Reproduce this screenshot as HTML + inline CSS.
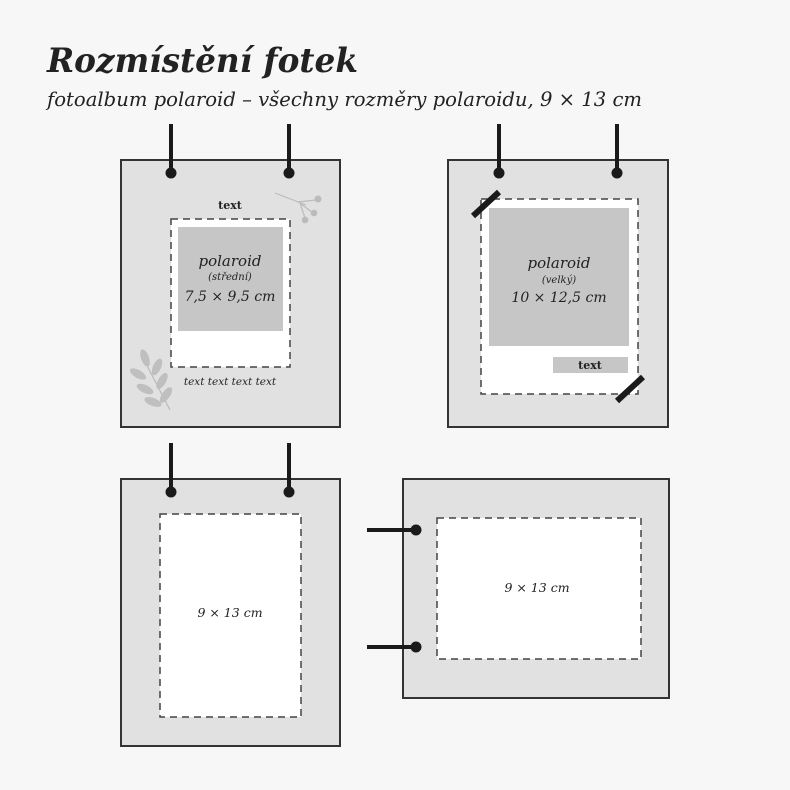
<!DOCTYPE html>
<html><head><meta charset="utf-8"><style>
html,body{margin:0;padding:0;background:#f7f7f7;}
svg{display:block;}
text{font-family:"DejaVu Serif","Liberation Serif",serif;fill:#222;}
</style></head><body>
<svg width="790" height="790" viewBox="0 0 790 790" xmlns="http://www.w3.org/2000/svg">
<rect width="790" height="790" fill="#f7f7f7"/>
<text x="47" y="72" font-size="34" font-weight="bold" font-style="italic" textLength="311" lengthAdjust="spacingAndGlyphs" fill="#1a1a1a">Rozmístění fotek</text>
<text x="47" y="106" font-size="20" font-style="italic" textLength="595" lengthAdjust="spacingAndGlyphs">fotoalbum polaroid – všechny rozměry polaroidu, 9 × 13 cm</text>

<g stroke="#333" stroke-width="2" fill="#e1e1e1">
<rect x="121" y="160" width="219" height="267"/>
<rect x="448" y="160" width="220" height="267"/>
<rect x="121" y="479" width="219" height="267"/>
<rect x="403" y="479" width="266" height="219"/>
</g>

<!-- panel 1 -->
<rect x="171" y="219" width="119" height="148" fill="#fff" stroke="#444" stroke-width="1.5" stroke-dasharray="7,5"/>
<rect x="178" y="227" width="105" height="104" fill="#c6c6c6"/>
<text x="230" y="209" font-size="11" font-weight="bold" text-anchor="middle">text</text>
<text x="230" y="266" font-size="15" font-style="italic" text-anchor="middle">polaroid</text>
<text x="230" y="280" font-size="10" font-style="italic" text-anchor="middle">(střední)</text>
<text x="230" y="301" font-size="14" font-style="italic" text-anchor="middle">7,5 × 9,5 cm</text>
<text x="230" y="385" font-size="10.5" font-style="italic" text-anchor="middle">text text text text</text>
<g stroke="#bbb" stroke-width="1.2" fill="#bbb">
<line x1="275" y1="193" x2="306" y2="205"/>
<line x1="298" y1="202" x2="316" y2="200"/>
<line x1="300" y1="203" x2="313" y2="213"/>
<line x1="300" y1="203" x2="305" y2="218"/>
<circle cx="318" cy="199" r="3.5" stroke="none"/>
<circle cx="314" cy="213" r="3.3" stroke="none"/>
<circle cx="305" cy="220" r="3.3" stroke="none"/>
<line x1="142" y1="356" x2="170" y2="410"/>
<g stroke="none" fill="#bfbfbf">
<ellipse cx="145" cy="358" rx="4" ry="9" transform="rotate(-20 145 358)"/>
<ellipse cx="157" cy="367" rx="4" ry="9" transform="rotate(25 157 367)"/>
<ellipse cx="138" cy="374" rx="4" ry="9" transform="rotate(-60 138 374)"/>
<ellipse cx="162" cy="381" rx="4" ry="9" transform="rotate(30 162 381)"/>
<ellipse cx="145" cy="389" rx="4" ry="9" transform="rotate(-65 145 389)"/>
<ellipse cx="166" cy="395" rx="4" ry="9" transform="rotate(35 166 395)"/>
<ellipse cx="153" cy="402" rx="4" ry="9" transform="rotate(-70 153 402)"/>
</g>
</g>

<!-- panel 2 -->
<rect x="481" y="199" width="157" height="195" fill="#fff" stroke="#444" stroke-width="1.5" stroke-dasharray="7,5"/>
<rect x="489" y="208" width="140" height="138" fill="#c6c6c6"/>
<rect x="553" y="357" width="75" height="16" fill="#c6c6c6"/>
<text x="590" y="369" font-size="11" font-weight="bold" text-anchor="middle">text</text>
<text x="559" y="268" font-size="15" font-style="italic" text-anchor="middle">polaroid</text>
<text x="559" y="283" font-size="10" font-style="italic" text-anchor="middle">(velký)</text>
<text x="559" y="302" font-size="14" font-style="italic" text-anchor="middle">10 × 12,5 cm</text>
<g stroke="#1a1a1a" stroke-width="6">
<line x1="473" y1="216" x2="499" y2="192"/>
<line x1="617" y1="401" x2="643" y2="377"/>
</g>

<!-- panel 3 -->
<rect x="160" y="514" width="141" height="203" fill="#fff" stroke="#444" stroke-width="1.5" stroke-dasharray="7,5"/>
<text x="230" y="617" font-size="12.5" font-style="italic" text-anchor="middle">9 × 13 cm</text>

<!-- panel 4 -->
<rect x="437" y="518" width="204" height="141" fill="#fff" stroke="#444" stroke-width="1.5" stroke-dasharray="7,5"/>
<text x="537" y="592" font-size="12.5" font-style="italic" text-anchor="middle">9 × 13 cm</text>

<!-- rings -->
<g stroke="#1a1a1a" stroke-width="4" fill="#1a1a1a">
<line x1="171" y1="124" x2="171" y2="172"/><circle cx="171" cy="173" r="5.5" stroke="none"/>
<line x1="289" y1="124" x2="289" y2="172"/><circle cx="289" cy="173" r="5.5" stroke="none"/>
<line x1="499" y1="124" x2="499" y2="172"/><circle cx="499" cy="173" r="5.5" stroke="none"/>
<line x1="617" y1="124" x2="617" y2="172"/><circle cx="617" cy="173" r="5.5" stroke="none"/>
<line x1="171" y1="443" x2="171" y2="491"/><circle cx="171" cy="492" r="5.5" stroke="none"/>
<line x1="289" y1="443" x2="289" y2="491"/><circle cx="289" cy="492" r="5.5" stroke="none"/>
<line x1="367" y1="530" x2="415" y2="530"/><circle cx="416" cy="530" r="5.5" stroke="none"/>
<line x1="367" y1="647" x2="415" y2="647"/><circle cx="416" cy="647" r="5.5" stroke="none"/>
</g>
</svg>
</body></html>
